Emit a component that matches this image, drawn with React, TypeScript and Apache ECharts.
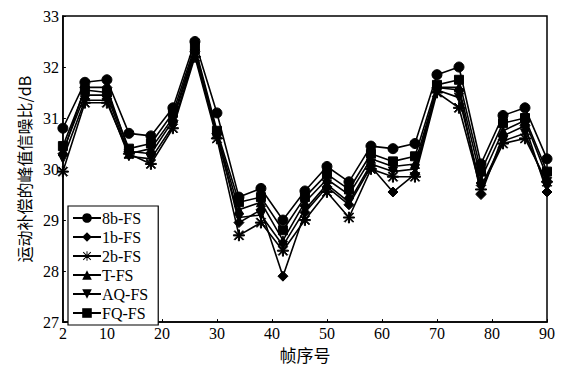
import React, { useEffect, useRef } from "react";
import * as echarts from "echarts";

const frames = [2, 6, 10, 14, 18, 22, 26, 30, 34, 38, 42, 46, 50, 54, 58, 62, 66, 70, 74, 78, 82, 86, 90];
const xTickLabels = [2, 10, 20, 30, 40, 50, 60, 70, 80, 90];

const s8b = [30.8, 31.7, 31.75, 30.7, 30.65, 31.2, 32.5, 31.1, 29.45, 29.62, 29.0, 29.57, 30.05, 29.75, 30.45, 30.4, 30.5, 31.85, 32.0, 30.1, 31.05, 31.2, 30.2];
const s1b = [30.3, 31.6, 31.6, 30.35, 30.3, 30.95, 32.3, 30.7, 28.95, 29.2, 27.9, 29.15, 29.65, 29.3, 30.05, 29.55, 29.9, 31.6, 31.55, 29.5, 30.65, 30.85, 29.55];
const s2b = [29.95, 31.3, 31.3, 30.3, 30.1, 30.8, 32.2, 30.6, 28.7, 28.95, 28.4, 29.0, 29.55, 29.05, 30.0, 29.85, 29.85, 31.5, 31.2, 29.6, 30.5, 30.6, 29.75];
const sT = [30.35, 31.45, 31.45, 30.3, 30.4, 31.0, 32.35, 30.7, 29.2, 29.35, 28.6, 29.35, 29.8, 29.5, 30.2, 30.05, 30.1, 31.6, 31.6, 29.8, 30.75, 30.95, 29.85];
const sAQ = [30.2, 31.35, 31.35, 30.25, 30.2, 30.85, 32.25, 30.65, 29.05, 29.1, 28.5, 29.2, 29.7, 29.35, 30.1, 29.95, 30.0, 31.55, 31.4, 29.65, 30.55, 30.7, 29.65];
const sFQ = [30.45, 31.55, 31.5, 30.4, 30.5, 31.1, 32.4, 30.75, 29.35, 29.45, 28.8, 29.45, 29.9, 29.6, 30.3, 30.15, 30.25, 31.65, 31.75, 29.95, 30.9, 31.0, 29.95];

const seriesNames = ["8b-FS", "1b-FS", "2b-FS", "T-FS", "AQ-FS", "FQ-FS"];
const seriesValues = [s8b, s1b, s2b, sT, sAQ, sFQ];

const asterisk =
  "path://M0,4.5 L10,4.5 L10,5.5 L0,5.5 Z M4.5,0 L5.5,0 L5.5,10 L4.5,10 Z M0.7,1.4 L1.4,0.7 L9.3,8.6 L8.6,9.3 Z M8.6,0.7 L9.3,1.4 L1.4,9.3 L0.7,8.6 Z";
const invTriangle = "path://M0,0 L10,0 L5,10 Z";
const symbols = ["circle", "diamond", asterisk, "triangle", invTriangle, "rect"];
const symbolSizes = [10, 10, 11, 9, 9, 9];

const serif = "'Liberation Serif', 'DejaVu Serif', serif";
const cjk = "'Noto Sans CJK SC', sans-serif";

export default function App() {
  const ref = useRef<HTMLDivElement>(null);
  useEffect(() => {
    if (!ref.current) return;
    const chart = echarts.init(ref.current, undefined, { renderer: "svg" });
    chart.setOption({
      animation: false,
      backgroundColor: "#fff",
      grid: {
        left: 50,
        right: 10,
        top: 7,
        bottom: 38,
        show: true,
        borderColor: "#000",
        borderWidth: 1.5,
      },
      legend: {
        orient: "vertical",
        left: 60,
        top: 198,
        data: seriesNames,
        backgroundColor: "#fff",
        borderColor: "#000",
        borderWidth: 1.2,
        padding: [4, 10, 4, 4],
        itemGap: 3,
        itemWidth: 28,
        itemHeight: 12,
        textStyle: { fontFamily: serif, fontSize: 16, lineHeight: 14, color: "#000", padding: [0, 0, 0, -4] },
      },
      xAxis: {
        type: "value",
        min: 2,
        max: 90,
        name: "帧序号",
        nameLocation: "middle",
        nameGap: 18,
        nameTextStyle: { fontFamily: cjk, fontSize: 17, color: "#000" },
        axisLine: { lineStyle: { color: "#000", width: 1.5 } },
        axisTick: { inside: true, length: 3, lineStyle: { color: "#000" }, customValues: xTickLabels },
        axisLabel: { customValues: xTickLabels, fontFamily: serif, fontSize: 16, color: "#000", margin: 3 },
        splitLine: { show: false },
      },
      yAxis: {
        type: "value",
        min: 27,
        max: 33,
        interval: 1,
        name: "运动补偿的峰值信噪比/dB",
        nameLocation: "middle",
        nameGap: 30,
        nameTextStyle: { fontFamily: cjk, fontSize: 16, color: "#000" },
        axisLine: { show: true, lineStyle: { color: "#000", width: 1.5 } },
        axisTick: { show: true, inside: true, length: 3, lineStyle: { color: "#000" } },
        axisLabel: { fontFamily: serif, fontSize: 16, color: "#000", margin: 4 },
        splitLine: { show: false },
      },
      series: seriesNames.map((name, i) => ({
        name,
        type: "line",
        data: frames.map((f, j) => [f, seriesValues[i][j]]),
        symbol: symbols[i],
        symbolSize: symbolSizes[i],
        showAllSymbol: true,
        lineStyle: { color: "#000", width: 1.6 },
        itemStyle: { color: "#000", borderColor: "#000" },
        z: 10 - i,
      })),
    });
    return () => chart.dispose();
  }, []);
  return <div ref={ref} style={{ width: 550, height: 360 }} />;
}
